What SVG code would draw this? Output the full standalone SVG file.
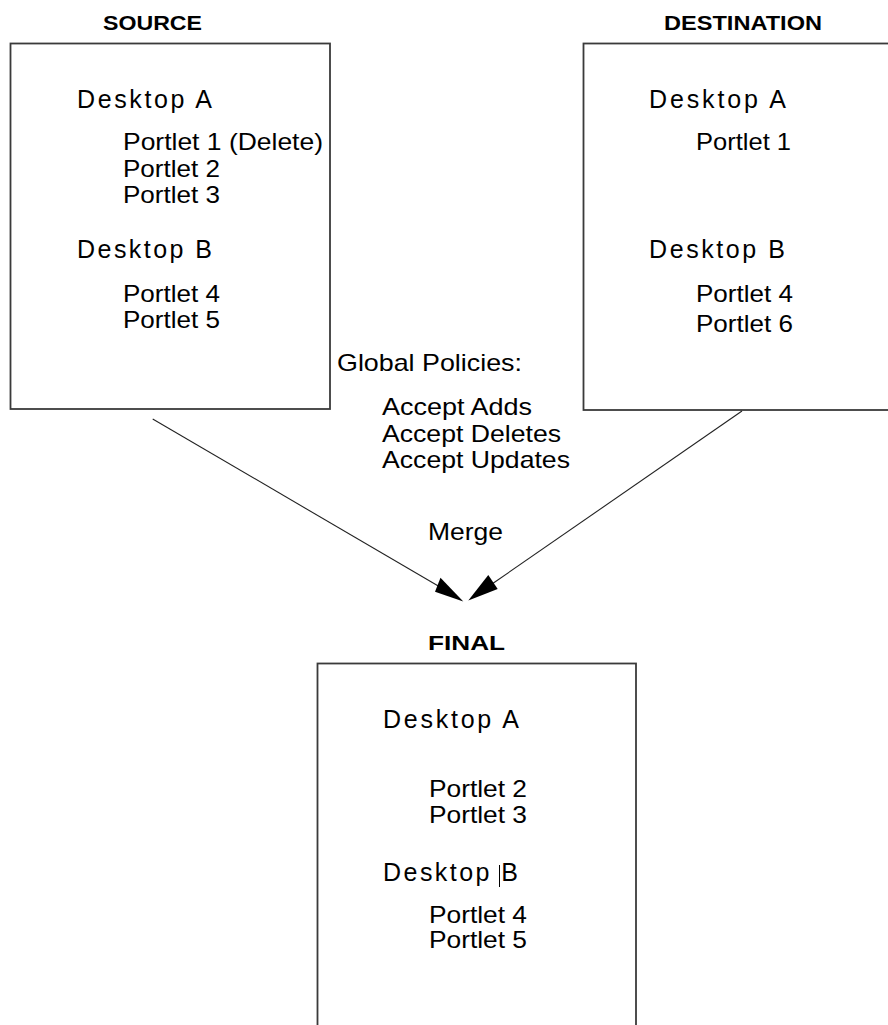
<svg xmlns="http://www.w3.org/2000/svg" width="888" height="1025" viewBox="0 0 888 1025">
<style>
.box{fill:#fff;stroke:#3a3a3a;stroke-width:1.8}
.t{font-family:"Liberation Sans",Arial,sans-serif;font-size:24px;fill:#000}
.d{font-family:"Liberation Sans",Arial,sans-serif;font-size:25px;fill:#000}
.h{font-family:"Liberation Sans",Arial,sans-serif;font-size:21px;font-weight:bold;fill:#000}
.ln{stroke:#222;stroke-width:1.1;fill:none}
.ah{fill:#000;stroke:none}
</style>
<rect width="888" height="1025" fill="#fff"/>
<g id="source">
<text class="h" x="103" y="30" textLength="99" lengthAdjust="spacingAndGlyphs">SOURCE</text>
<rect class="box" x="10.5" y="43.5" width="319.5" height="365.5"/>
<text class="d" x="77" y="108" textLength="135" lengthAdjust="spacing">Desktop A</text>
<text class="t" x="123" y="150" textLength="200" lengthAdjust="spacingAndGlyphs">Portlet 1 (Delete)</text>
<text class="t" x="123" y="177" textLength="97" lengthAdjust="spacingAndGlyphs">Portlet 2</text>
<text class="t" x="123" y="203" textLength="97" lengthAdjust="spacingAndGlyphs">Portlet 3</text>
<text class="d" x="77" y="258" textLength="135" lengthAdjust="spacing">Desktop B</text>
<text class="t" x="123" y="302" textLength="97" lengthAdjust="spacingAndGlyphs">Portlet 4</text>
<text class="t" x="123" y="328" textLength="97" lengthAdjust="spacingAndGlyphs">Portlet 5</text>
</g>
<g id="destination">
<text class="h" x="664" y="30" textLength="158" lengthAdjust="spacingAndGlyphs">DESTINATION</text>
<rect class="box" x="583.5" y="43.5" width="310" height="366.5"/>
<text class="d" x="649" y="108" textLength="137" lengthAdjust="spacing">Desktop A</text>
<text class="t" x="696" y="150" textLength="95" lengthAdjust="spacingAndGlyphs">Portlet 1</text>
<text class="d" x="649" y="258" textLength="136" lengthAdjust="spacing">Desktop B</text>
<text class="t" x="696" y="302" textLength="97" lengthAdjust="spacingAndGlyphs">Portlet 4</text>
<text class="t" x="696" y="332" textLength="97" lengthAdjust="spacingAndGlyphs">Portlet 6</text>
</g>
<g id="policies">
<text class="t" x="337" y="371" textLength="185" lengthAdjust="spacingAndGlyphs">Global Policies:</text>
<text class="t" x="382" y="415" textLength="150" lengthAdjust="spacingAndGlyphs">Accept Adds</text>
<text class="t" x="382" y="442" textLength="179" lengthAdjust="spacingAndGlyphs">Accept Deletes</text>
<text class="t" x="382" y="468" textLength="188" lengthAdjust="spacingAndGlyphs">Accept Updates</text>
</g>
<g id="final">
<text class="h" x="428" y="650" textLength="77" lengthAdjust="spacingAndGlyphs">FINAL</text>
<rect class="box" x="317.5" y="663.5" width="318.5" height="400"/>
<text class="d" x="383" y="728" textLength="136" lengthAdjust="spacing">Desktop A</text>
<text class="t" x="429" y="797" textLength="98" lengthAdjust="spacingAndGlyphs">Portlet 2</text>
<text class="t" x="429" y="823" textLength="98" lengthAdjust="spacingAndGlyphs">Portlet 3</text>
<text class="d" x="383" y="881" textLength="135" lengthAdjust="spacing">Desktop B</text>
<line x1="499.5" y1="865" x2="499.5" y2="887" stroke="#000" stroke-width="1"/>
<text class="t" x="429" y="923" textLength="98" lengthAdjust="spacingAndGlyphs">Portlet 4</text>
<text class="t" x="429" y="948" textLength="98" lengthAdjust="spacingAndGlyphs">Portlet 5</text>
</g>
<g id="connectors">
<line class="ln" x1="152.7" y1="419" x2="440" y2="587"/>
<polygon class="ah" points="435,591.7 440.5,577.7 463.3,601.5"/>
<line class="ln" x1="742" y1="411" x2="492" y2="584"/>
<polygon class="ah" points="468.3,600.5 488.3,575 497.7,589"/>
<text class="t" x="428" y="540" textLength="75" lengthAdjust="spacingAndGlyphs">Merge</text>
</g>
</svg>
